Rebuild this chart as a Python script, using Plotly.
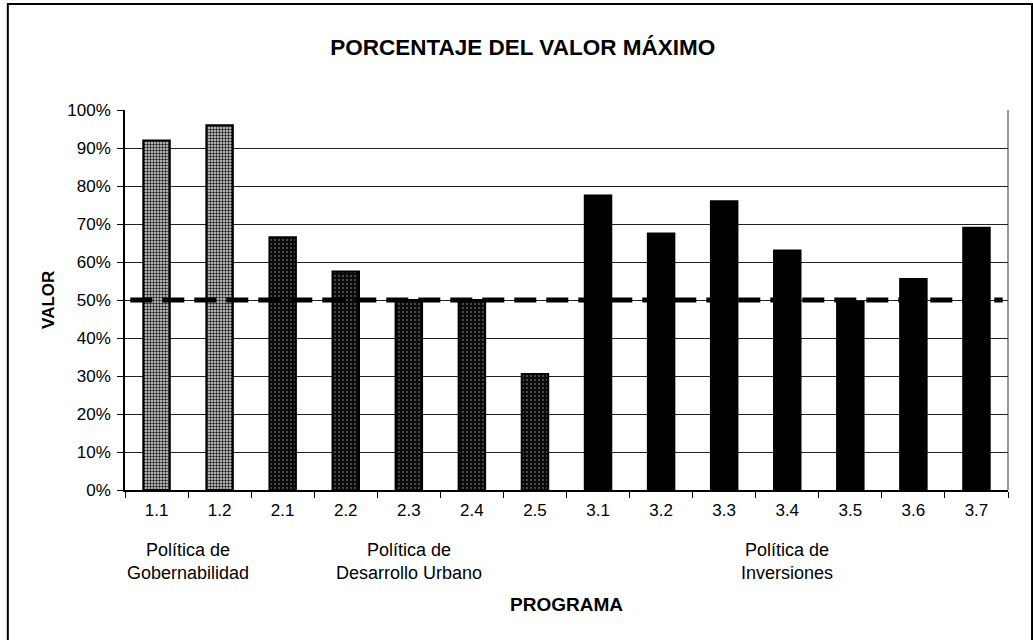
import plotly.graph_objects as go

# Programs and their share of the maximum value
programas = ["1.1", "1.2", "2.1", "2.2", "2.3", "2.4", "2.5",
             "3.1", "3.2", "3.3", "3.4", "3.5", "3.6", "3.7"]
valores = [0.92, 0.96, 0.665, 0.575, 0.50, 0.50, 0.305,
           0.775, 0.675, 0.76, 0.63, 0.495, 0.555, 0.69]
grupo = [0, 0, 1, 1, 1, 1, 1, 2, 2, 2, 2, 2, 2, 2]
grupos = ["Política de<br>Gobernabilidad",
          "Política de<br>Desarrollo Urbano",
          "Política de<br>Inversiones"]
umbral = 0.5
ticks_y = [i / 10 for i in range(11)]
ticks_y_txt = [f"{i * 10}%" for i in range(11)]

FONT = "Liberation Sans, Arial, sans-serif"

# stipple styles per policy group: light dots, dark dots, solid black
estilos = [
    dict(color="#9c9c9c", pattern=dict(shape=".", fgcolor="#1a1a1a", bgcolor="#e0e0e0",
                                       size=3, solidity=0.5, fillmode="replace")),
    dict(color="#1a1a1a", pattern=dict(shape=".", fgcolor="#a8a8a8", bgcolor="#0a0a0a",
                                       size=4, solidity=0.1, fillmode="replace")),
    dict(color="#000000"),
]

fig = go.Figure()
for g in range(3):
    xs = [p for p, k in zip(programas, grupo) if k == g]
    ys = [v for v, k in zip(valores, grupo) if k == g]
    fig.add_trace(go.Bar(
        x=xs, y=ys, width=0.42,
        marker=dict(**estilos[g], line=dict(color="black", width=2)),
        showlegend=False, hoverinfo="x+y",
    ))

# 50 % reference line across the plot
fig.add_shape(type="line", xref="paper", yref="y", x0=0.006, x1=0.994,
              y0=umbral, y1=umbral, layer="above",
              line=dict(color="black", width=5, dash="22px,10px"))

# group captions under the category labels
for g, texto in enumerate(grupos):
    idx = [i for i, k in enumerate(grupo) if k == g]
    centro = (idx[0] + idx[-1]) / 2
    fig.add_annotation(x=centro, xref="x", y=-0.187, yref="paper",
                       text=texto, showarrow=False, yanchor="middle",
                       font=dict(family=FONT, size=18, color="black"))

fig.add_annotation(x=0.5, xref="paper", y=-0.30, yref="paper", text="<b>PROGRAMA</b>",
                   showarrow=False, yanchor="middle",
                   font=dict(family=FONT, size=19, color="black"))
fig.add_annotation(x=-0.0873, xref="paper", y=0.5, yref="paper", text="<b>VALOR</b>",
                   textangle=-90, showarrow=False, xanchor="center", yanchor="middle",
                   font=dict(family=FONT, size=17, color="black"))

# outer chart frame
fig.add_shape(type="rect", xref="paper", yref="paper",
              x0=-0.1327, x1=1.0272, y0=-0.42, y1=1.279,
              line=dict(color="black", width=2), layer="below")

fig.update_layout(
    width=1033, height=640,
    margin=dict(l=125, r=25, t=110, b=150),
    paper_bgcolor="white", plot_bgcolor="white",
    bargap=0.58,
    title=dict(text="<b>PORCENTAJE DEL VALOR MÁXIMO</b>", x=0.506, xanchor="center",
               y=0.926, yanchor="middle",
               font=dict(family=FONT, size=22.5, color="black")),
    font=dict(family=FONT, size=17, color="black"),
)
fig.update_xaxes(type="category", tickson="boundaries", ticks="outside", ticklen=6,
                 tickcolor="black", showline=True, linecolor="black", linewidth=1.5,
                 showgrid=False, tickfont=dict(size=17), ticklabelstandoff=4, mirror=False)
fig.update_yaxes(range=[0, 1], tickvals=ticks_y, ticktext=ticks_y_txt,
                 ticks="outside", ticklen=6, tickcolor="black",
                 showline=True, linecolor="black", linewidth=1.5,
                 showgrid=True, gridcolor="#222222", gridwidth=1,
                 ticklabelstandoff=3, tickfont=dict(size=17), zeroline=False)

# right edge of the plot area
fig.add_shape(type="line", xref="paper", yref="paper", x0=1, x1=1, y0=0, y1=1,
              line=dict(color="#333333", width=1), layer="below")

fig.write_html("out.html")
